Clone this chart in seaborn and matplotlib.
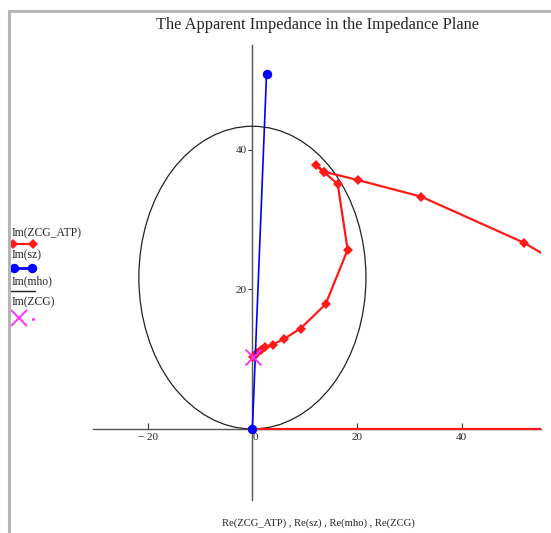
import numpy as np
import pandas as pd
import seaborn as sns
import matplotlib
matplotlib.use("Agg")
import matplotlib.pyplot as plt
from matplotlib.lines import Line2D
from matplotlib.patches import Circle

# ---- data ----
atp_re = [0.0, 120.0, 70.0, 51.9, 32.3, 20.1, 13.6, 12.2, 13.6, 16.3, 18.2, 14.0,
          9.2, 6.0, 3.9, 2.5, 1.6, 0.9, 0.4, 0.2]
atp_im = [0.0, 0.0, 18.7, 26.7, 33.3, 35.7, 36.9, 37.8, 36.9, 35.1, 25.7, 17.9,
          14.4, 12.9, 12.1, 11.7, 11.3, 10.9, 10.5, 10.3]
sz_re = [0.0, 2.7]
sz_im = [0.0, 50.9]
mho_center = (0.0, 21.7)
mho_radius = 21.7
zcg_re = [0.2]
zcg_im = [10.3]
xticks = [-20, 0, 20, 40]
xticklabels = ["\u2212 20", "0", "20", "40"]
yticks = [20, 40]
yticklabels = ["20", "40"]

sns.set_style("white")
plt.rcParams['font.family'] = ['Liberation Serif', 'DejaVu Serif']

fig = plt.figure(figsize=(5.51, 5.33), dpi=100)
ax = fig.add_axes([93/551, 1-500/533, (541-93)/551, (500-45)/533])

RED = '#ff1a1a'
BLUE = '#0000ff'
MAG = '#ff33ff'

df_atp = pd.DataFrame({'re': atp_re, 'im': atp_im})
sns.lineplot(data=df_atp, x='re', y='im', sort=False, estimator=None, ax=ax,
             color=RED, lw=1.6, marker='D', markersize=5.2, markeredgewidth=0,
             zorder=3)
df_sz = pd.DataFrame({'re': sz_re, 'im': sz_im})
sns.lineplot(data=df_sz, x='re', y='im', sort=False, estimator=None, ax=ax,
             color=BLUE, lw=1.2, marker='o', markersize=6.8, markeredgewidth=0,
             zorder=4)
ax.add_patch(Circle(mho_center, mho_radius, fill=False, ec='#222222', lw=0.9,
                    zorder=2))
ax.scatter(zcg_re, zcg_im, marker='x', s=130, color=MAG, linewidths=1.4, zorder=5)

ax.set_xlim(-30.46, 55.15)
ax.set_ylim(-10.18, 55.05)
ax.set_xlabel('')
ax.set_ylabel('')

for s in ['top', 'right']:
    ax.spines[s].set_visible(False)
ax.spines['left'].set_position(('data', 0))
ax.spines['bottom'].set_position(('data', 0))
for s in ['left', 'bottom']:
    ax.spines[s].set_color('#555555')
    ax.spines[s].set_linewidth(1.0)
    ax.spines[s].set_zorder(1)

ax.set_xticks(xticks)
ax.set_xticklabels(xticklabels)
ax.set_yticks(yticks)
ax.set_yticklabels(yticklabels)
ax.tick_params(axis='x', direction='in', length=4, width=0.8, color='#333333',
               labelsize=8, pad=3, bottom=True)
ax.tick_params(axis='y', direction='out', length=3, width=0.8, color='#333333',
               labelsize=8, pad=1, left=True)
for lbl in ax.get_xticklabels():
    if lbl.get_text() == '0':
        lbl.set_horizontalalignment('left')

fig.text(317/551, 1-25/533, 'The Apparent Impedance in the Impedance Plane',
         ha='center', va='center', fontsize=11.8)
fig.text(318/551, 1-523/533, 'Re(ZCG_ATP) , Re(sz) , Re(mho) , Re(ZCG)',
         ha='center', va='center', fontsize=7.7)

# legend (manual, Mathcad style)
def fx(p):
    return p/551
def fy(p):
    return 1-p/533
LFS = 8.4
fig.text(fx(12), fy(233), 'Im(ZCG_ATP)', fontsize=LFS, va='center', ha='left')
fig.add_artist(Line2D([fx(13), fx(33)], [fy(243.5)]*2, color=RED, lw=1.6,
                      marker='D', markersize=5, markeredgewidth=0))
fig.text(fx(12), fy(255), 'Im(sz)', fontsize=LFS, va='center', ha='left')
fig.add_artist(Line2D([fx(14), fx(32)], [fy(268)]*2, color=BLUE, lw=2,
                      marker='o', markersize=6.8, markeredgewidth=0))
fig.text(fx(12), fy(281.5), 'Im(mho)', fontsize=LFS, va='center', ha='left')
fig.add_artist(Line2D([fx(11), fx(35)], [fy(291)]*2, color='#222222', lw=1.0))
fig.text(fx(12), fy(302), 'Im(ZCG)', fontsize=LFS, va='center', ha='left')
fig.add_artist(Line2D([fx(19)], [fy(318)], color=MAG, lw=0, marker='x',
                      markersize=11, markeredgewidth=1.4))
fig.add_artist(Line2D([fx(33)], [fy(319)], color=MAG, lw=0, marker='o',
                      markersize=1.2))

# gray frame
fig.add_artist(Line2D([fx(9), fx(9)], [fy(11), fy(533)], color='#b5b5b5', lw=2.2))
fig.add_artist(Line2D([fx(9), fx(551)], [fy(11), fy(11)], color='#b5b5b5', lw=2.2))

fig.savefig('out.png', dpi=100)
